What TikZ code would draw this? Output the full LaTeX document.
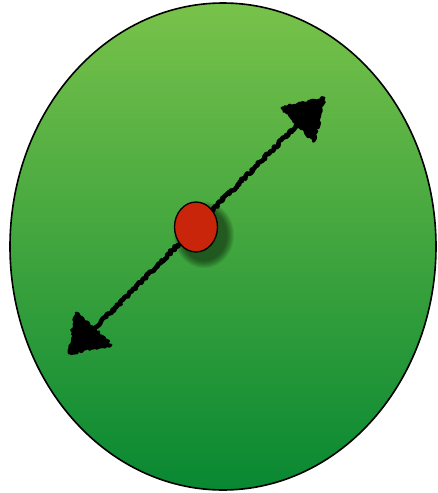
\documentclass[tikz,border=0pt]{standalone}
\usetikzlibrary{shapes.geometric,decorations.pathmorphing}
\definecolor{gtop}{RGB}{120,194,74}
\definecolor{gbot}{RGB}{8,136,50}
\definecolor{dotred}{RGB}{200,37,10}
\tikzset{
  bigoval/.style={ellipse, draw=black, line width=1.6pt, minimum width=426pt, minimum height=487pt, inner sep=0pt, top color=gtop, bottom color=gbot},
  reddot/.style={ellipse, draw=black, line width=1.3pt, fill=dotred, minimum width=43pt, minimum height=50pt, inner sep=0pt},
  rough/.style={decorate, decoration={random steps, segment length=1.8pt, amplitude=1.5pt}},
  shaft/.style={rough, draw=black, line width=4.6pt, line cap=round, line join=round},
  headfill/.style={rough, draw=black, fill=black, line width=2.8pt, line join=round}
}
\begin{document}
\begin{tikzpicture}[x=1pt,y=-1pt]
\pgfmathsetseed{11}
\useasboundingbox (0,0) rectangle (438,493);
\node[bigoval] (oval) at (223,246.5) {};
% arrow geometry
\coordinate (tipA) at (324,98);
\coordinate (baseA1) at (282,108);
\coordinate (baseA2) at (314,141);
\coordinate (tipB) at (69,353);
\coordinate (baseB1) at (76,313);
\coordinate (baseB2) at (111,345);
\coordinate (startS) at (94,329);
\coordinate (endS) at (298,124);
\draw[shaft] (startS) -- (endS);
\draw[headfill] (tipA) -- (baseA1) -- (baseA2) -- cycle;
\draw[headfill] (tipB) -- (baseB1) -- (baseB2) -- cycle;
% shadow of red dot
\foreach \i in {0,...,7}{
  \fill[black, opacity=0.07] (204,235) ellipse ({22+8-\i} and {25+8-\i});
}
\node[reddot] (dot) at (196,227) {};
\end{tikzpicture}
\end{document}
